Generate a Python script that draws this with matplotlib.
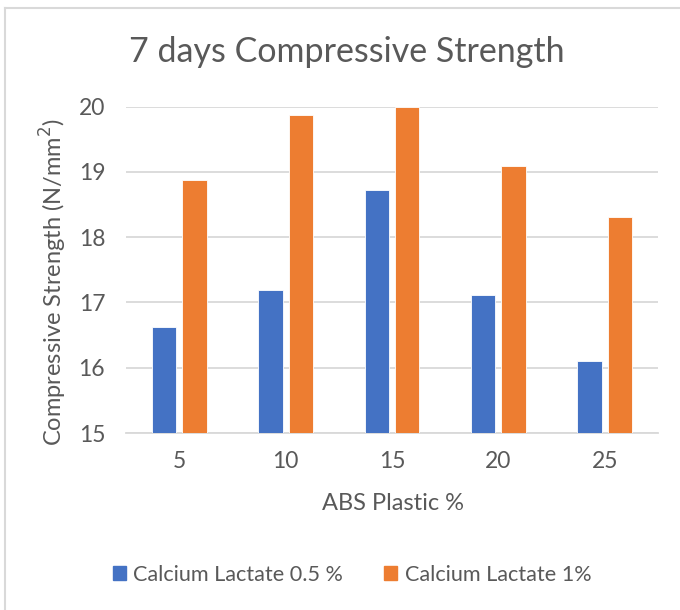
import matplotlib
matplotlib.use("Agg")
import matplotlib.pyplot as plt
from matplotlib.lines import Line2D
import numpy as np

categories = ["5", "10", "15", "20", "25"]
series_names = ["Calcium Lactate 0.5 %", "Calcium Lactate 1%"]
lactate_05 = [16.62, 17.19, 18.72, 17.11, 16.11]
lactate_1 = [18.88, 19.88, 20.0, 19.09, 18.31]
yticks = [15, 16, 17, 18, 19, 20]

plt.rcParams['font.family'] = ['Lato', 'DejaVu Sans']
TXT = '#595959'
GRID = '#D9D9D9'

fig = plt.figure(figsize=(6.8, 6.1), dpi=100)
W, H = 680, 610
ax = fig.add_axes([126 / W, 1 - 433 / H, (658 - 126) / W, (433 - 106.7) / H])

x = np.arange(len(categories))
bw = 0.23
off = 0.143
ax.bar(x - off, lactate_05, bw, bottom=0, color='#4472C4', edgecolor='white', linewidth=0.6, zorder=3)
ax.bar(x + off, lactate_1, bw, bottom=0, color='#ED7D31', edgecolor='white', linewidth=0.6, zorder=3)

ax.set_xlim(-0.5, len(categories) - 0.5)
ax.set_ylim(15, 20)
ax.set_yticks(yticks)
ax.set_xticks(x)
ax.set_xticklabels(categories)
ax.yaxis.grid(True, color=GRID, linewidth=1.3, zorder=0)
ax.set_axisbelow(True)
for s in ['top', 'right', 'left']:
    ax.spines[s].set_visible(False)
ax.spines['bottom'].set_color(GRID)
ax.spines['bottom'].set_linewidth(1.3)
ax.tick_params(axis='both', length=0, labelsize=16.5, colors=TXT)
ax.tick_params(axis='y', pad=15)
ax.tick_params(axis='x', pad=13)

ax.set_ylabel('Compressive Strength (N/mm$^2$)', fontsize=17, color=TXT)
ax.yaxis.set_label_coords(-(126 - 53) / (658 - 126), 0.463)
ax.set_xlabel('ABS Plastic %', fontsize=17, color=TXT)
ax.xaxis.set_label_coords((393 - 126) / (658 - 126), -(504 - 433) / (433 - 106.7))
ax.xaxis.label.set_va('center')
ax.yaxis.label.set_va('center')

fig.text(347 / W, 1 - 52 / H, '7 days Compressive Strength', fontsize=24.5, color=TXT,
         ha='center', va='center')

handles = [plt.Rectangle((0, 0), 1, 1, color='#4472C4'), plt.Rectangle((0, 0), 1, 1, color='#ED7D31')]
fig.legend(handles, series_names, loc='center', bbox_to_anchor=(352 / W, 1 - 575 / H),
           ncol=2, frameon=False, fontsize=15.6, labelcolor=TXT, handlelength=0.6,
           handleheight=0.6, handletextpad=0.35, columnspacing=1.9)

fig.add_artist(Line2D([5 / W, 5 / W], [0, 1 - 8 / H], transform=fig.transFigure, color=GRID, linewidth=1.5))
fig.add_artist(Line2D([5 / W, 1], [1 - 8 / H, 1 - 8 / H], transform=fig.transFigure, color=GRID, linewidth=1.5))

fig.savefig('out.png', dpi=100)
